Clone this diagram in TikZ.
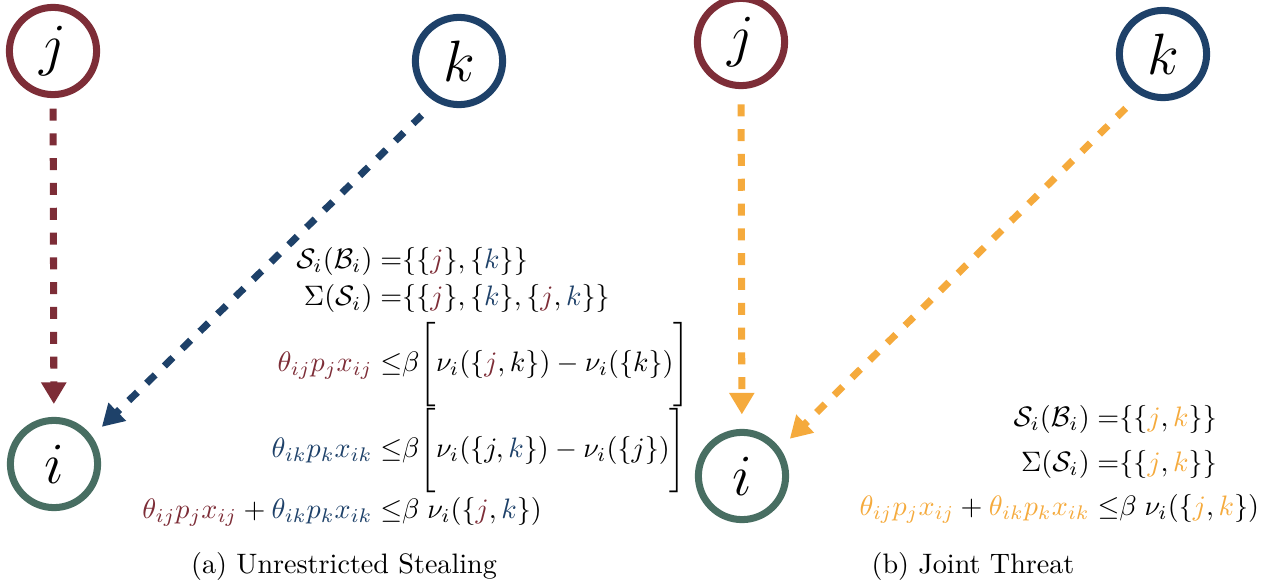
\documentclass[tikz,border=0pt]{standalone}
\usepackage{amsmath}
\usetikzlibrary{arrows.meta}

\definecolor{jred}{RGB}{125,45,55}
\definecolor{kblue}{RGB}{30,65,105}
\definecolor{igreen}{RGB}{72,110,98}
\definecolor{jorange}{RGB}{245,170,60}

\newcommand{\colj}[1]{{\color{jred}#1}}
\newcommand{\colk}[1]{{\color{kblue}#1}}
\newcommand{\colo}[1]{{\color{jorange}#1}}

\begin{document}
\begin{tikzpicture}[
  x=0.0125cm, y=-0.0125cm,
  agent/.style={circle, draw, text=black, line width=2.5pt,
    minimum size=1.09cm, inner sep=0pt, font=\huge},
  threat/.style={line width=2.5pt, dash pattern=on 0.15cm off 0.16cm,
    -{Triangle[length=0.27cm,width=0.3cm]}}
]
  \useasboundingbox (0,0) rectangle (1273,586);

  % (a) Unrestricted Stealing
  \node[agent, draw=jred]   (ja) at (53,51)   {$j$};
  \node[agent, draw=kblue]  (ka) at (459,61)  {$k$};
  \node[agent, draw=igreen] (ia) at (54,464)  {$i$};

  \draw[threat, jred, shorten <=0.13cm, shorten >=0.16cm] (ja) -- (ia);
  \draw[threat, kblue, shorten <=0.24cm, shorten >=0.17cm] (ka.240) -- (ia.36);

  \node[anchor=east] (conda) at (700,387) {$\begin{aligned}
    \mathcal{S}_i(\mathcal{B}_i) =& \{\{\colj{j}\},\{\colk{k}\}\}\\[-1.8pt]
    \Sigma(\mathcal{S}_i) =& \{\{\colj{j}\},\{\colk{k}\},\{\colj{j},\colk{k}\}\}\\[-1.8pt]
    \colj{\theta_{ij}p_jx_{ij}} \leq& \beta\Bigg[\nu_i(\{\colj{j},k\})-\nu_i(\{k\})\Bigg]\\[-3.5pt]
    \colk{\theta_{ik}p_kx_{ik}} \leq& \beta\Bigg[\nu_i(\{j,\colk{k}\})-\nu_i(\{j\})\Bigg]\\[-3pt]
    \colj{\theta_{ij}p_jx_{ij}}+\colk{\theta_{ik}p_kx_{ik}} \leq& \beta\;\nu_i(\{\colj{j},\colk{k}\})
  \end{aligned}$};
  \node (capa) at (344,566) {(a) Unrestricted Stealing};

  % (b) Joint Threat
  \node[agent, draw=jred]   (jb) at (741,42)  {$j$};
  \node[agent, draw=kblue]  (kb) at (1163,54) {$k$};
  \node[agent, draw=igreen] (ib) at (742,476) {$i$};

  \draw[threat, jorange, shorten <=0.19cm, shorten >=0.18cm] (jb) -- (ib);
  \draw[threat, jorange, shorten <=0.24cm, shorten >=0.17cm] (kb.240) -- (ib.36);

  \node[anchor=east] (condb) at (1269,464) {$\begin{aligned}
    \mathcal{S}_i(\mathcal{B}_i) =& \{\{\colo{j},\colo{k}\}\}\\[1pt]
    \Sigma(\mathcal{S}_i) =& \{\{\colo{j},\colo{k}\}\}\\[0.5pt]
    \colo{\theta_{ij}p_jx_{ij}}+\colo{\theta_{ik}p_kx_{ik}} \leq& \beta\;\nu_i(\{\colo{j},\colo{k}\})
  \end{aligned}$};
  \node (capb) at (973,566) {(b) Joint Threat};
\end{tikzpicture}
\end{document}
